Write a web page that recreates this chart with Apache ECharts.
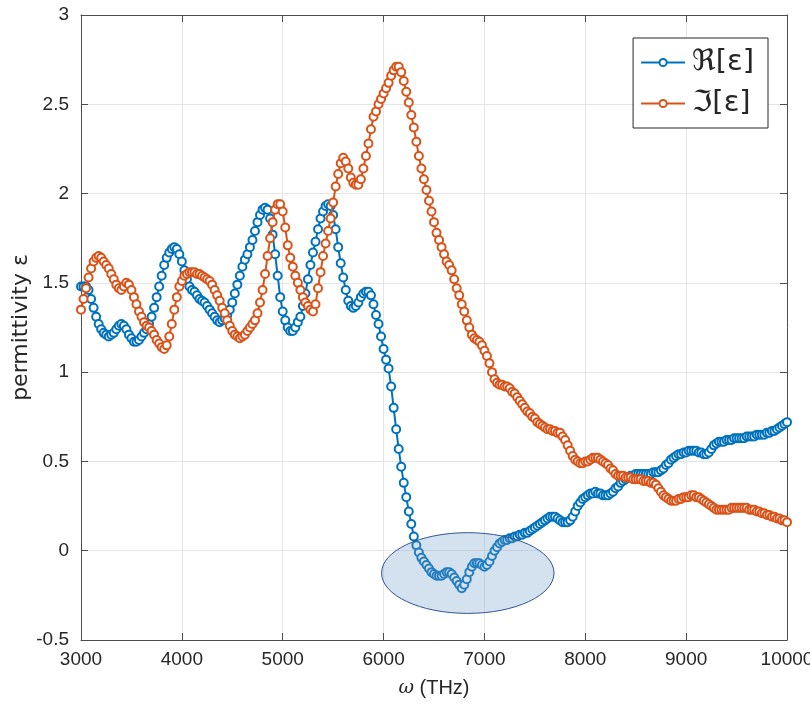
<!DOCTYPE html>
<html>
<head>
<meta charset="utf-8">
<script src="https://cdn.jsdelivr.net/npm/echarts@6/dist/echarts.min.js"></script>
<style>
  html, body { margin: 0; padding: 0; background: #fff; }
  #permChart { width: 810px; height: 704px; }
</style>
</head>
<body>
<div id="permChart"></div>
<script>
// sampling grid of the spectrum (THz)
var freqStart = 3000;
var freqStep = 25;

// real part, one value every 25 THz from 3000 to 10000
var reEps = [
  1.48, 1.48, 1.48, 1.46, 1.41, 1.36, 1.31, 1.27, 1.24, 1.22, 1.21, 1.20, 1.21, 1.22, 1.24, 1.26, 1.27, 1.26, 1.24, 1.21,
  1.19, 1.17, 1.17, 1.18, 1.20, 1.22, 1.24, 1.27, 1.31, 1.36, 1.42, 1.48, 1.54, 1.60, 1.64, 1.67, 1.69, 1.70, 1.69, 1.66,
  1.62, 1.57, 1.52, 1.48, 1.46, 1.45, 1.43, 1.41, 1.40, 1.39, 1.37, 1.35, 1.33, 1.31, 1.29, 1.28, 1.29, 1.30, 1.32, 1.35,
  1.39, 1.44, 1.49, 1.54, 1.59, 1.63, 1.66, 1.70, 1.74, 1.79, 1.84, 1.88, 1.91, 1.92, 1.91, 1.86, 1.77, 1.66, 1.54, 1.42,
  1.34, 1.29, 1.25, 1.23, 1.23, 1.25, 1.28, 1.31, 1.37, 1.44, 1.52, 1.60, 1.67, 1.73, 1.80, 1.86, 1.90, 1.93, 1.94, 1.93,
  1.88, 1.80, 1.70, 1.61, 1.53, 1.46, 1.40, 1.37, 1.36, 1.37, 1.39, 1.42, 1.44, 1.45, 1.45, 1.43, 1.38, 1.32, 1.27, 1.20,
  1.13, 1.07, 1.02, 0.92, 0.80, 0.68, 0.57, 0.47, 0.38, 0.30, 0.22, 0.15, 0.08, 0.03, -0.01, -0.04, -0.06, -0.08, -0.10, -0.12,
  -0.13, -0.14, -0.14, -0.14, -0.13, -0.12, -0.12, -0.13, -0.15, -0.17, -0.19, -0.21, -0.19, -0.16, -0.12, -0.09, -0.07, -0.07, -0.07, -0.08,
  -0.09, -0.08, -0.06, -0.03, 0.00, 0.02, 0.04, 0.05, 0.06, 0.06, 0.07, 0.07, 0.08, 0.08, 0.09, 0.09, 0.10, 0.10, 0.11, 0.12,
  0.13, 0.14, 0.15, 0.16, 0.17, 0.18, 0.19, 0.19, 0.19, 0.18, 0.17, 0.16, 0.16, 0.16, 0.17, 0.19, 0.22, 0.25, 0.27, 0.29,
  0.30, 0.31, 0.32, 0.32, 0.33, 0.32, 0.32, 0.31, 0.31, 0.31, 0.32, 0.33, 0.35, 0.36, 0.38, 0.39, 0.40, 0.41, 0.42, 0.42,
  0.43, 0.43, 0.43, 0.43, 0.43, 0.43, 0.43, 0.44, 0.44, 0.44, 0.45, 0.46, 0.48, 0.49, 0.51, 0.52, 0.53, 0.54, 0.54, 0.55,
  0.55, 0.56, 0.56, 0.56, 0.56, 0.55, 0.55, 0.54, 0.54, 0.55, 0.57, 0.59, 0.60, 0.61, 0.61, 0.61, 0.62, 0.62, 0.62, 0.63,
  0.63, 0.63, 0.63, 0.63, 0.64, 0.64, 0.64, 0.64, 0.65, 0.65, 0.65, 0.65, 0.66, 0.66, 0.67, 0.67, 0.68, 0.69, 0.70, 0.71,
  0.72
];

// imaginary part, same grid
var imEps = [
  1.35, 1.41, 1.47, 1.53, 1.58, 1.62, 1.64, 1.65, 1.64, 1.62, 1.60, 1.58, 1.55, 1.52, 1.49, 1.47, 1.46, 1.48, 1.50, 1.49,
  1.46, 1.42, 1.38, 1.34, 1.31, 1.28, 1.26, 1.25, 1.23, 1.21, 1.18, 1.16, 1.14, 1.13, 1.15, 1.20, 1.27, 1.35, 1.42, 1.48,
  1.51, 1.54, 1.55, 1.56, 1.56, 1.56, 1.55, 1.55, 1.54, 1.53, 1.52, 1.51, 1.49, 1.46, 1.43, 1.40, 1.36, 1.33, 1.29, 1.26,
  1.23, 1.21, 1.20, 1.19, 1.20, 1.21, 1.23, 1.25, 1.27, 1.29, 1.33, 1.39, 1.46, 1.55, 1.65, 1.75, 1.84, 1.91, 1.94, 1.94,
  1.90, 1.81, 1.71, 1.64, 1.59, 1.54, 1.50, 1.46, 1.42, 1.39, 1.37, 1.35, 1.34, 1.38, 1.47, 1.56, 1.65, 1.72, 1.79, 1.86,
  1.95, 2.04, 2.11, 2.17, 2.20, 2.18, 2.14, 2.09, 2.06, 2.05, 2.05, 2.08, 2.14, 2.21, 2.28, 2.36, 2.43, 2.46, 2.50, 2.53,
  2.56, 2.59, 2.62, 2.66, 2.69, 2.71, 2.71, 2.68, 2.63, 2.57, 2.51, 2.44, 2.37, 2.29, 2.21, 2.14, 2.08, 2.02, 1.96, 1.90,
  1.84, 1.78, 1.74, 1.70, 1.66, 1.62, 1.60, 1.57, 1.52, 1.47, 1.43, 1.38, 1.34, 1.29, 1.25, 1.21, 1.19, 1.18, 1.17, 1.15,
  1.12, 1.09, 1.05, 1.00, 0.96, 0.94, 0.93, 0.93, 0.92, 0.92, 0.91, 0.89, 0.88, 0.86, 0.84, 0.82, 0.80, 0.78, 0.77, 0.75,
  0.74, 0.72, 0.71, 0.70, 0.69, 0.68, 0.68, 0.67, 0.67, 0.66, 0.66, 0.64, 0.62, 0.59, 0.56, 0.53, 0.51, 0.50, 0.49, 0.49,
  0.50, 0.50, 0.51, 0.52, 0.52, 0.52, 0.51, 0.50, 0.49, 0.48, 0.46, 0.45, 0.43, 0.42, 0.42, 0.42, 0.41, 0.41, 0.41, 0.40,
  0.40, 0.40, 0.40, 0.39, 0.39, 0.39, 0.38, 0.38, 0.37, 0.35, 0.33, 0.31, 0.30, 0.29, 0.28, 0.28, 0.28, 0.29, 0.29, 0.30,
  0.30, 0.30, 0.31, 0.31, 0.30, 0.30, 0.29, 0.28, 0.27, 0.26, 0.25, 0.24, 0.23, 0.23, 0.23, 0.23, 0.23, 0.23, 0.24, 0.24,
  0.24, 0.24, 0.24, 0.24, 0.24, 0.23, 0.23, 0.23, 0.22, 0.22, 0.21, 0.21, 0.20, 0.20, 0.19, 0.19, 0.18, 0.18, 0.17, 0.17,
  0.16
];

var xTicks = [3000, 4000, 5000, 6000, 7000, 8000, 9000, 10000];
var yTicks = [-0.5, 0, 0.5, 1, 1.5, 2, 2.5, 3];

// highlighted region (center and half-axes in data units)
var ellipseCenter = [6835, -0.125];
var ellipseRadius = [855, 0.226];

var seriesNames = ['\u211C[\u03B5]', '\u2111[\u03B5]'];

var freq = [];
for (var i = 0; i < reEps.length; i++) {
  freq.push(freqStart + i * freqStep);
}
function pairs(vals) {
  return vals.map(function (v, i) { return [freq[i], v]; });
}

var axisGray = '#4d4d4d';
var textCol = '#262626';
var font = 'Liberation Sans, Arial, Helvetica, sans-serif';

var chartDom = document.getElementById('permChart');
var permChart = echarts.init(chartDom, null, { renderer: 'canvas' });

function lineSeries(name, vals, color, z) {
  return {
    name: name,
    type: 'line',
    data: pairs(vals),
    xAxisIndex: 0,
    yAxisIndex: 0,
    symbol: 'emptyCircle',
    symbolSize: 8,
    showAllSymbol: true,
    z: z,
    lineStyle: { color: color, width: 2 },
    itemStyle: { color: color, borderColor: color, borderWidth: 3 },
    emphasis: { disabled: true }
  };
}

var option = {
  animation: false,
  backgroundColor: '#fff',
  grid: { left: 81, right: 23, top: 15, bottom: 64, containLabel: false, outerBoundsMode: 'none' },
  legend: {
    data: seriesNames,
    orient: 'vertical',
    right: 42,
    top: 38,
    padding: [10, 14, 10, 7],
    itemGap: 12,
    itemWidth: 44,
    itemHeight: 9,
    backgroundColor: '#fff',
    borderColor: '#262626',
    borderWidth: 1,
    borderRadius: 0,
    textStyle: { fontSize: 29, color: textCol, fontFamily: 'DejaVu Sans, sans-serif', padding: [0, 0, 0, 2] }
  },
  xAxis: [
    {
      type: 'value',
      min: 3000,
      max: 10000,
      interval: 1000,
      name: '{i|\u03C9} (THz)',
      nameLocation: 'middle',
      nameGap: 38,
      nameMoveOverlap: false,
      nameTextStyle: {
        fontSize: 20, color: textCol, fontFamily: font,
        rich: { i: { fontSize: 19, fontStyle: 'italic', fontFamily: 'DejaVu Serif, serif', color: textCol } }
      },
      axisLine: { show: true, onZero: false, lineStyle: { color: axisGray, width: 1 } },
      axisTick: { show: true, inside: true, length: 7, lineStyle: { color: axisGray } },
      axisLabel: {
        fontSize: 19, color: textCol, fontFamily: font, margin: 10,
        formatter: function (v) { return xTicks.indexOf(v) >= 0 ? String(v) : ''; }
      },
      splitLine: { show: true, lineStyle: { color: '#e5e5e5', width: 1 } }
    },
    {
      type: 'value',
      position: 'top',
      min: 3000,
      max: 10000,
      interval: 1000,
      axisLine: { show: true, onZero: false, lineStyle: { color: axisGray, width: 1 } },
      axisTick: { show: true, inside: true, length: 7, lineStyle: { color: axisGray } },
      axisLabel: { show: false },
      splitLine: { show: false }
    }
  ],
  yAxis: [
    {
      type: 'value',
      min: -0.5,
      max: 3,
      interval: 0.5,
      name: 'permittivity \u03B5',
      nameLocation: 'middle',
      nameGap: 49,
      nameMoveOverlap: false,
      nameTextStyle: { fontSize: 22, color: textCol, fontFamily: 'DejaVu Sans, sans-serif' },
      axisLine: { show: true, onZero: false, lineStyle: { color: axisGray, width: 1 } },
      axisTick: { show: true, inside: true, length: 7, lineStyle: { color: axisGray } },
      axisLabel: {
        fontSize: 19, color: textCol, fontFamily: font, margin: 12,
        formatter: function (v) { return yTicks.indexOf(v) >= 0 ? String(v) : ''; }
      },
      splitLine: { show: true, lineStyle: { color: '#e5e5e5', width: 1 } }
    },
    {
      type: 'value',
      position: 'right',
      min: -0.5,
      max: 3,
      interval: 0.5,
      axisLine: { show: true, onZero: false, lineStyle: { color: axisGray, width: 1 } },
      axisTick: { show: true, inside: true, length: 7, lineStyle: { color: axisGray } },
      axisLabel: { show: false },
      splitLine: { show: false }
    }
  ],
  series: [
    lineSeries(seriesNames[0], reEps, '#0072BD', 3),
    lineSeries(seriesNames[1], imEps, '#D95319', 4),
    {
      name: 'highlight',
      type: 'custom',
      xAxisIndex: 0,
      yAxisIndex: 0,
      z: 10,
      silent: true,
      data: [[ellipseCenter[0], ellipseCenter[1], ellipseRadius[0], ellipseRadius[1]]],
      renderItem: function (params, api) {
        var c = api.coord([api.value(0), api.value(1)]);
        var s = api.size([api.value(2), api.value(3)]);
        return {
          type: 'ellipse',
          shape: { cx: c[0], cy: c[1], rx: s[0], ry: s[1] },
          style: {
            fill: 'rgba(112,155,202,0.3)',
            stroke: '#2f5597',
            lineWidth: 1
          }
        };
      }
    }
  ]
};

permChart.setOption(option);
</script>
</body>
</html>
